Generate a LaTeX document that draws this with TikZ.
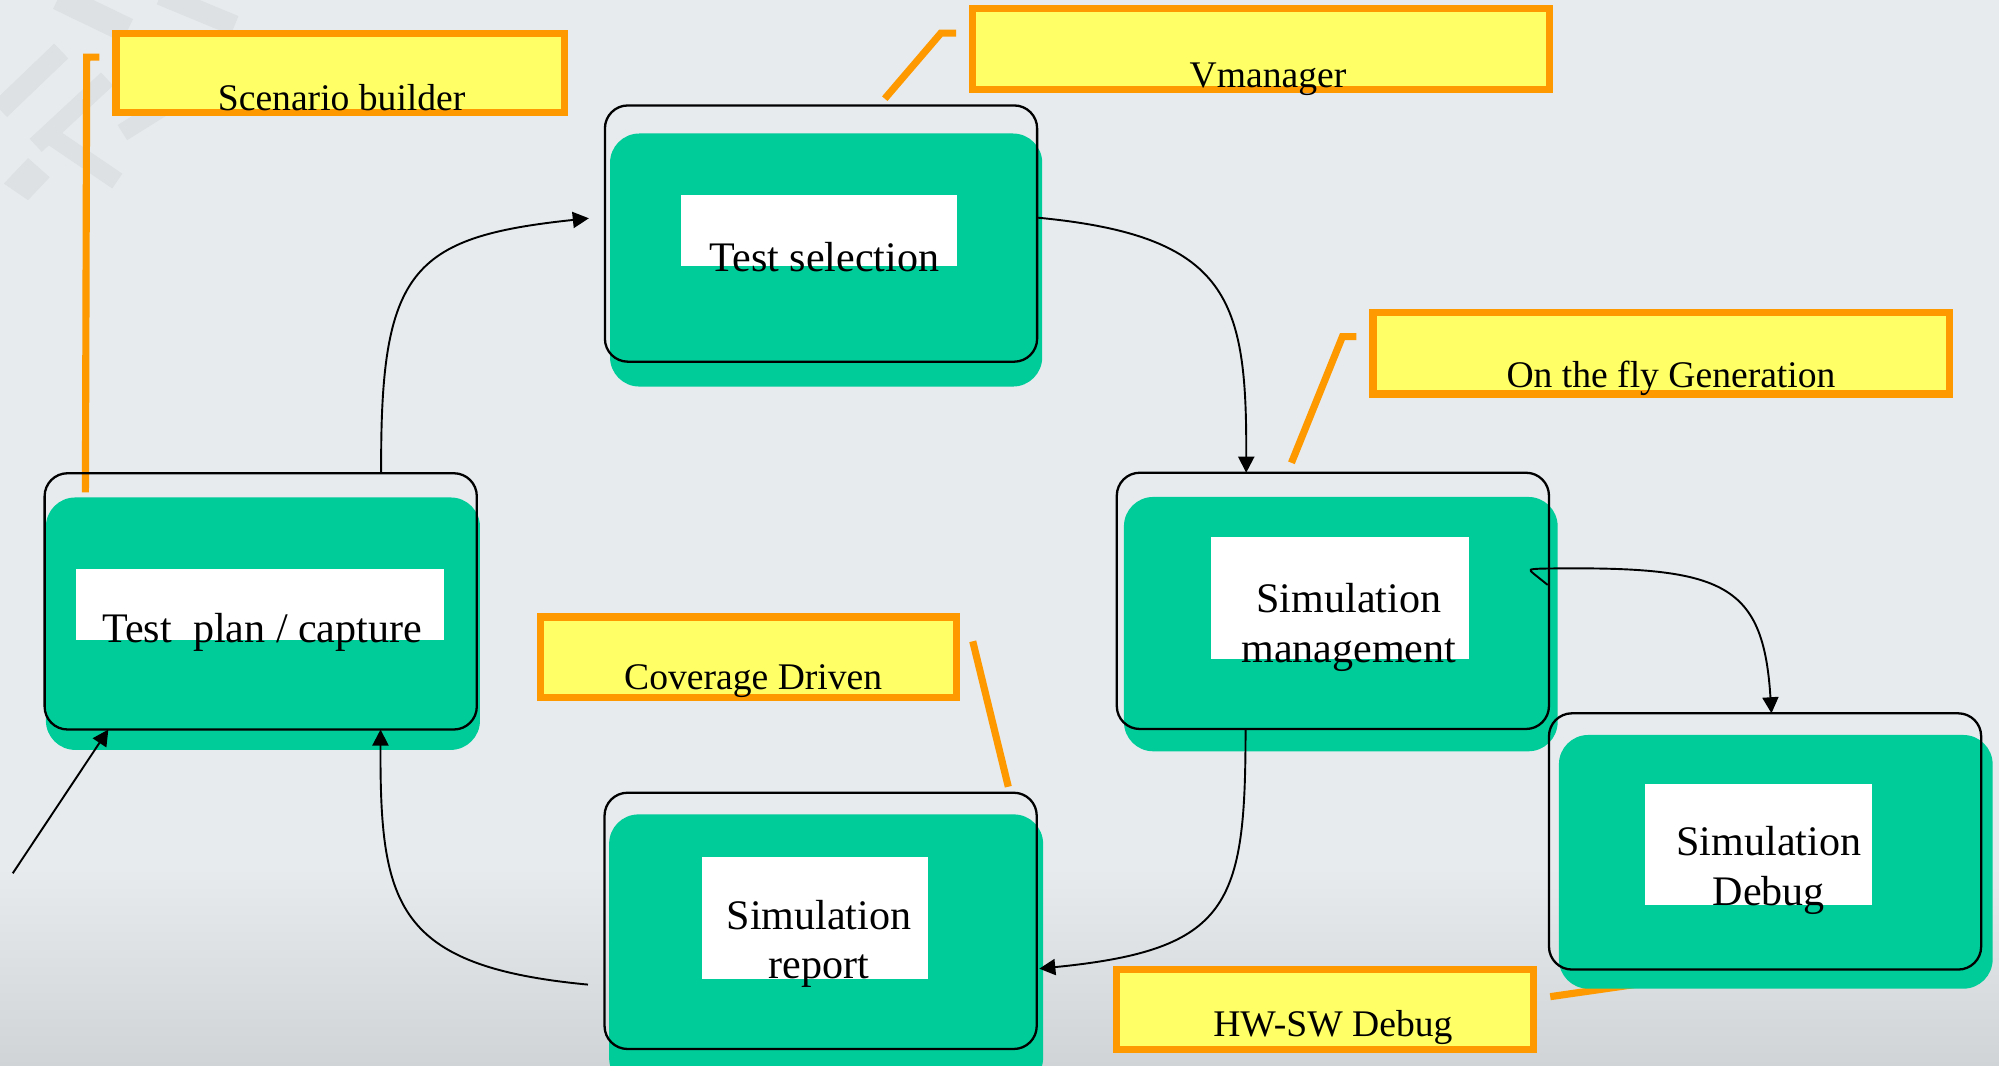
\documentclass[tikz,border=0pt]{standalone}
\usepackage{fontspec}
\setmainfont{Liberation Serif}
\usetikzlibrary{arrows.meta,calc}

\definecolor{paper}{RGB}{231,235,238}
\definecolor{watermark}{RGB}{221,225,228}
\definecolor{ground}{RGB}{208,212,214}
\definecolor{stagegreen}{RGB}{0,204,153}
\definecolor{notefill}{RGB}{255,255,102}
\definecolor{noteedge}{RGB}{255,153,0}

\pgfdeclarelayer{paperlayer}
\pgfdeclarelayer{backlayer}
\pgfsetlayers{paperlayer,backlayer,main}

\tikzset{
  stagebox/.style={draw=black, line width=0.9pt, rounded corners=9pt,
    inner sep=0pt, outer sep=0pt, minimum width=169.5pt, minimum height=100.5pt},
  stagefill/.style={fill=stagegreen, rounded corners=11.5pt},
  pad/.style={fill=white},
  stagetext/.style={inner sep=0pt, align=center,
    font=\fontsize{16.5pt}{19.5pt}\selectfont},
  notebox/.style={draw=noteedge, fill=notefill, line width=2.8pt,
    inner sep=0pt, outer sep=0pt},
  notetext/.style={inner sep=0pt, anchor=base,
    font=\fontsize{14.75pt}{17pt}\selectfont},
  leader/.style={draw=noteedge, line width=2.8pt, line cap=butt, line join=miter},
  flow/.style={draw=black, line width=0.75pt,
    -{Triangle[length=6.3pt,width=6.3pt]}},
}

\begin{document}
\begin{tikzpicture}[x={(0.5pt,0)}, y={(0,-0.5pt)}]
  \useasboundingbox (0,0) rectangle (1568,836);

  % paper, faint watermark and darker ground
  \begin{pgfonlayer}{paperlayer}
    \fill[paper] (0,0) rectangle (1568,836);
    \shade[top color=paper, bottom color=ground] (0,680) rectangle (1568,836);
    \begin{scope}[draw=watermark, line cap=butt]
      \draw[line width=8pt] (0,86) -- (48,40);
      \draw[line width=7pt] (28,114) -- (84,62);
      \draw[line width=7pt] (36,104) -- (92,142);
      \draw[line width=10pt] (46,-2) -- (100,24);
      \draw[line width=7pt] (96,104) -- (128,84);
      \draw[line width=8pt] (126,-4) -- (184,20);
      \fill[watermark] (3,144) -- (22,124) -- (39,139) -- (22,157) -- cycle;
    \end{scope}
  \end{pgfonlayer}

  % process stages
  \node[stagebox] (plan) at (204.5,471.7) {};
  \node[stagebox] (sel)  at (644,183.2)   {};
  \node[stagebox] (mgmt) at (1045.5,471.3) {};
  \node[stagebox] (dbg)  at (1384.5,660)  {};
  \node[stagebox] (rep)  at (643.7,722.3) {};

  % green bodies sit slightly below their outlines
  \begin{pgfonlayer}{backlayer}
    \fill[stagefill] ($(plan.north west)+(1,19)$) rectangle ($(plan.south east)+(2.5,16)$);
    \fill[stagefill] ($(sel.north west)+(4,22)$)  rectangle ($(sel.south east)+(4,19.5)$);
    \fill[stagefill] ($(mgmt.north west)+(5.6,19)$) rectangle ($(mgmt.south east)+(6.8,17.5)$);
    \fill[stagefill] ($(dbg.north west)+(7.8,17)$) rectangle ($(dbg.south east)+(9,15)$);
    \fill[stagefill] ($(rep.north west)+(3.6,17)$) rectangle ($(rep.south east)+(5,30)$);
  \end{pgfonlayer}

  % white name plates
  \fill[pad] (60,446) rectangle (348,502);
  \fill[pad] (534,153) rectangle (751,209);
  \fill[pad] (950,421) rectangle (1152,516.7);
  \fill[pad] (1290,615) rectangle (1468,710);
  \fill[pad] (550.6,672) rectangle (728,767.6);

  % stage names
  \node[stagetext, anchor=base]  (plantext) at (205.7,504)   {Test\ \ plan / capture};
  \node[stagetext, anchor=base]  (seltext)  at (646.7,213)   {Test selection};
  \node[stagetext, anchor=north] (mgmttext) at (1058,457.3)  {Simulation\\management};
  \node[stagetext, anchor=north] (dbgtext)  at (1387.5,648.1) {Simulation\\Debug};
  \node[stagetext, anchor=north] (reptext)  at (642.4,705.5) {Simulation\\report};

  % tool notes
  \node[notebox, minimum width=176pt, minimum height=31.25pt] (scen) at (267,57.25)   {};
  \node[notebox, minimum width=226.5pt, minimum height=31.75pt] (vman) at (989,38.25) {};
  \node[notebox, minimum width=226pt, minimum height=32pt]   (fly)  at (1303,277)     {};
  \node[notebox, minimum width=163pt, minimum height=31.5pt] (cov)  at (587,515.5)    {};
  \node[notebox, minimum width=163.5pt, minimum height=31.25pt] (hw) at (1039.5,791.75) {};

  \node[notetext] (scentext) at (268,86.3)    {Scenario builder};
  \node[notetext] (vmantext) at (994.6,68.5)  {Vmanager};
  \node[notetext] (flytext)  at (1310.7,304)  {On the fly Generation};
  \node[notetext] (covtext)  at (590.8,540.6) {Coverage Driven};
  \node[notetext] (hwtext)   at (1045.5,813)  {HW-SW Debug};

  % note leaders
  \begin{pgfonlayer}{paperlayer}
    \draw[leader] ($(scen.north west)+(-13,18.8)$) -- ++(-10,0) -- ($(plan.north west)+(32,15)$);
    \draw[leader] ($(vman.north west)+(-12.5,19.5)$) -- ++(-12,0) -- ($(sel.north)+(50,-5.3)$);
    \draw[leader] ($(fly.north west)+(-13,19)$) -- ++(-11,0) -- ($(mgmt.north)+(-32.5,-7.8)$);
    \draw[leader] ($(cov.north east)+(13,19)$) -- ($(rep.north east)+(-22.3,-4.7)$);
    \draw[leader] ($(hw.east)+(13,-10)$) -- ($(dbg.south west)+(85,9.2)$);
  \end{pgfonlayer}

  % flow between stages
  \draw[flow] ($(plan.north)+(94.5,0)$) .. controls (298,212) and (322,186) .. ($(sel.west)+(-12.6,-12)$);
  \draw[flow] ($(sel.east)+(0,-12.5)$) .. controls (965,185) and (978,235) .. ($(mgmt.north)+(-68,0)$);
  \draw[flow] ($(mgmt.east)+(-1,-12.5)$) -- (1203,450) .. controls (1199,446.5) .. (1209,446)
      .. controls (1350,444) and (1383,455) .. ($(dbg.north)+(5,0)$);
  \draw[flow] ($(mgmt.south)+(-68.5,0)$) .. controls (977,710) and (965,745) .. ($(rep.east)+(2,37.5)$);
  \draw[flow] ($(rep.west)+(-13,50)$) .. controls (310,758) and (298,710) .. ($(plan.south)+(94,0)$);
  \coordinate (entry) at (10,685);
  \draw[flow] (entry) -- ($(plan.south)+(-119.5,0)$);
\end{tikzpicture}
\end{document}
